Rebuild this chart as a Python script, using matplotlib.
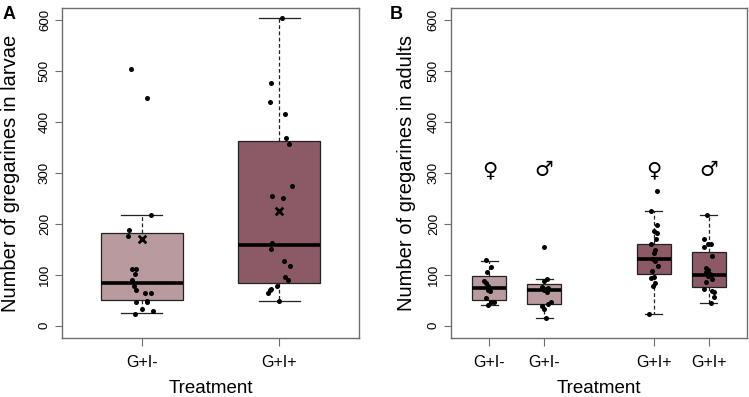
# boxplots of gregarine counts in larvae (A) and adults (B)
import matplotlib
matplotlib.use('agg')
import matplotlib.pyplot as plt

plt.rcParams['font.family'] = ['Liberation Sans', 'DejaVu Sans']

# ---- data ----
# panel A: larvae
a_labels = ['G+I-', 'G+I+']
a_pos = [1, 2]
a_neg = [505, 447, 218, 189, 176, 112, 112, 102, 90, 78, 70, 65, 65, 46, 49, 46, 32, 30, 24]
a_neg_jit = [-0.08, 0.04, 0.07, -0.09, -0.10, -0.07, -0.04, -0.05, -0.07, -0.06,
             -0.04, 0.02, 0.07, -0.04, 0.04, 0.04, 0.0, 0.08, -0.05]
a_plus = [604, 477, 440, 415, 369, 356, 275, 254, 250, 162, 151, 128, 117, 95, 90, 79, 73, 71, 65, 48]
a_plus_jit = [0.02, -0.06, -0.065, 0.04, 0.05, 0.07, 0.095, -0.05, 0.025, -0.055,
              -0.06, 0.035, 0.08, 0.045, 0.06, -0.015, -0.06, -0.07, -0.085, 0.0]
a_q1 = [50, 84]
a_med = [84, 158]
a_q3 = [183, 362]
a_lo = [25, 48]
a_hi = [218, 604]
a_mean = [170, 226]

# panel B: adults (female / male within each treatment)
b_labels = ['G+I-', 'G+I-', 'G+I+', 'G+I+']
b_pos = [1, 2, 4, 5]
b_sex = ['\u2640', '\u2642', '\u2640', '\u2642']
b_f_neg = [129, 115, 106, 88, 84, 79, 75, 70, 69, 54, 47, 46, 40]
b_f_neg_jit = [-0.07, 0.03, -0.04, -0.09, -0.055, -0.02, 0, -0.03, 0.02, -0.07, 0.09, 0.03, -0.02]
b_m_neg = [154, 91, 88, 76, 73, 75, 70, 67, 46, 43, 39, 32, 15]
b_m_neg_jit = [-0.005, 0.06, 0, -0.04, 0.025, 0.07, -0.01, 0.06, 0.12, 0.07, -0.04, -0.01, 0.04]
b_f_plus = [265, 225, 198, 186, 182, 171, 161, 149, 142, 132, 128, 118, 107, 96, 94, 84, 78, 24]
b_f_plus_jit = [0.06, -0.06, 0.055, -0.005, 0.06, 0.045, -0.05, 0.025, 0, -0.01,
                0.025, 0.085, -0.035, 0, -0.05, 0.025, -0.02, -0.08]
b_m_plus = [217, 171, 161, 160, 155, 137, 113, 109, 106, 101, 97, 92, 86, 73, 69, 67, 56, 45]
b_m_plus_jit = [-0.025, -0.08, 0.045, -0.005, -0.09, 0.055, -0.04, -0.005, -0.055, 0.03,
                -0.02, 0.055, -0.055, -0.08, 0.055, 0.09, 0.09, 0.045]
b_q1 = [50.5, 42, 101.5, 75.5]
b_med = [73.5, 70, 131.5, 99.5]
b_q3 = [98, 83, 160, 145]
b_lo = [40, 16, 24, 44.5]
b_hi = [128, 92, 225, 217]

light = '#b89a9f'
dark = '#8b5a66'
frame = '#6e6e6e'


def box_panel(ax, pos, q1, med, q3, lo, hi, colors, width):
    stats = [dict(q1=a, med=m, q3=b, whislo=l, whishi=h)
             for a, m, b, l, h in zip(q1, med, q3, lo, hi)]
    bp = ax.bxp(stats, positions=pos, widths=width, capwidths=width / 2,
                showfliers=False, patch_artist=True, manage_ticks=False,
                boxprops=dict(linewidth=0.9, edgecolor='#222222'),
                medianprops=dict(color='black', linewidth=2.6),
                whiskerprops=dict(color='#222222', linewidth=0.9, linestyle=(0, (3, 2))),
                capprops=dict(color='#222222', linewidth=0.9))
    for patch, c in zip(bp['boxes'], colors):
        patch.set_facecolor(c)


def dots(ax, center, vals, jit):
    ax.scatter([center + j for j in jit], vals, s=13, color='black', zorder=5, linewidths=0)


def style(ax, ylabel, ylab_x):
    ax.set_ylim(-24, 624)
    ax.set_yticks(range(0, 601, 100))
    ax.tick_params(axis='y', labelrotation=90, labelsize=9.5, length=5, color=frame, pad=3)
    for t in ax.get_yticklabels():
        t.set_verticalalignment('center')
    ax.tick_params(axis='x', labelsize=11.5, length=6, color=frame, pad=6)
    for s in ax.spines.values():
        s.set_color(frame)
        s.set_linewidth(1.0)
    ax.set_ylabel(ylabel, fontsize=14.5, va='center')
    ax.yaxis.set_label_coords(ylab_x, 0.5)
    ax.set_xlabel('Treatment', fontsize=13.5, va='center')
    ax.xaxis.set_label_coords(0.5, -0.1545)


fig = plt.figure(figsize=(7.49, 3.97), dpi=100)
axA = fig.add_axes([0.0828, 0.1486, 0.3965, 0.8312])
axB = fig.add_axes([0.6021, 0.1486, 0.3952, 0.8312])

# panel A
box_panel(axA, a_pos, a_q1, a_med, a_q3, a_lo, a_hi, [light, dark], 0.6)
dots(axA, a_pos[0], a_neg, a_neg_jit)
dots(axA, a_pos[1], a_plus, a_plus_jit)
axA.scatter(a_pos, a_mean, marker='x', s=30, color='black', linewidths=2, zorder=6)
axA.set_xlim(0.42, 2.58)
axA.set_xticks(a_pos)
axA.set_xticklabels(a_labels)
style(axA, 'Number of gregarines in larvae', -0.175)

# panel B
box_panel(axB, b_pos, b_q1, b_med, b_q3, b_lo, b_hi, [light, light, dark, dark], 0.62)
for p, v, j in zip(b_pos, [b_f_neg, b_m_neg, b_f_plus, b_m_plus],
                   [b_f_neg_jit, b_m_neg_jit, b_f_plus_jit, b_m_plus_jit]):
    dots(axB, p, v, j)
for p, s in zip(b_pos, b_sex):
    axB.text(p, 305, s, ha='center', va='center', fontsize=15,
             family=['DejaVu Sans'], color='black')
axB.set_xlim(0.3, 5.7)
axB.set_xticks(b_pos)
axB.set_xticklabels(b_labels)
style(axB, 'Number of gregarines in adults', -0.15)

fig.text(0.004, 0.985, 'A', fontsize=13, fontweight='bold', va='top', ha='left')
fig.text(0.520, 0.985, 'B', fontsize=13, fontweight='bold', va='top', ha='left')

plt.savefig('out.png', dpi=100)
